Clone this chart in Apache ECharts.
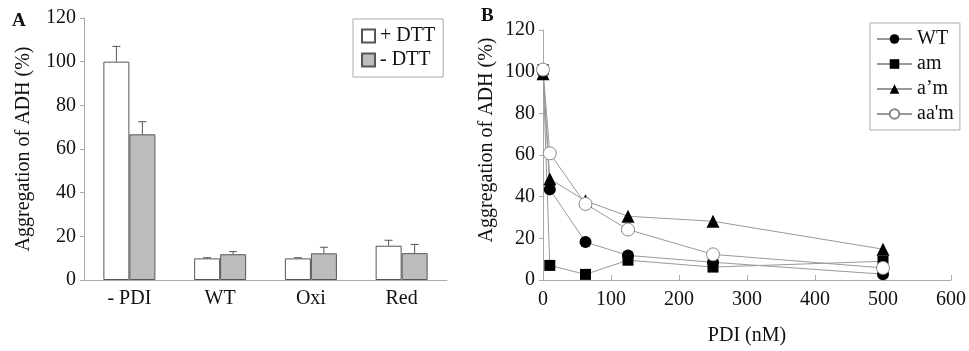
<!DOCTYPE html>
<html>
<head>
<meta charset="utf-8">
<script src="https://cdn.jsdelivr.net/npm/echarts@6/dist/echarts.min.js"></script>
<style>
html,body{margin:0;padding:0;background:#fff;}
#c{width:969px;height:351px;}
</style>
</head>
<body>
<div id="c"></div>
<script>
// Panel A data
const categories = ['- PDI', 'WT', 'Oxi', 'Red'];
const plusDTT = [100, 9.9, 9.9, 15.7];
const plusDTTErrTop = [107, 10.2, 10.2, 18.2];
const minusDTT = [66.7, 11.8, 12.2, 12.3];
const minusDTTErrTop = [72.5, 13, 15, 16.3];
const yTicksA = [0, 20, 40, 60, 80, 100, 120];

// Panel B data
const pdi = [0, 10, 62.5, 125, 250, 500];
const wt = [100, 43.5, 18.2, 11.8, 8.5, 2.8];
const am = [101, 7, 2.7, 9.5, 6.2, 9];
const apm = [99, 48.5, 38, 30.6, 28.2, 14.8];
const aapm = [101, 60.8, 36.5, 24.2, 12.3, 5.8];
const xTicksB = [0, 100, 200, 300, 400, 500, 600];
const yTicksB = [0, 20, 40, 60, 80, 100, 120];

const FONT = '"Liberation Serif", "DejaVu Serif", serif';
const TXT = '#111';
const AX = '#aaa';
const BAR_W = 26;

function pairs(xs, ys) { return xs.map((x, i) => [x, ys[i]]); }

function errSeries(name, vals, tops, side) {
  return {
    type: 'custom',
    name: name + ' err',
    xAxisIndex: 0, yAxisIndex: 0,
    z: 5,
    silent: true,
    data: vals.map((v, i) => [i, v, tops[i]]),
    renderItem: function (params, api) {
      const i = api.value(0);
      const base = api.coord([i, api.value(1)]);
      const top = api.coord([i, api.value(2)]);
      const x = base[0] + side * BAR_W / 2;
      const st = { stroke: '#555', lineWidth: 1 };
      return {
        type: 'group',
        children: [
          { type: 'line', shape: { x1: x, y1: base[1], x2: x, y2: top[1] }, style: st },
          { type: 'line', shape: { x1: x - 4, y1: top[1], x2: x + 4, y2: top[1] }, style: st }
        ]
      };
    }
  };
}

const chart = echarts.init(document.getElementById('c'));
const option = {
  animation: false,
  backgroundColor: '#fff',
  textStyle: { fontFamily: FONT },
  graphic: [
    { type: 'text', left: 12, top: 12, style: { text: 'A', font: 'bold 19px "Liberation Serif"', fill: TXT } },
    { type: 'text', left: 481, top: 7, style: { text: 'B', font: 'bold 19px "Liberation Serif"', fill: TXT } }
  ],
  grid: [
    { left: 84, right: 522, top: 18, bottom: 71 },
    { left: 543, right: 18, top: 30, bottom: 68 }
  ],
  legend: [
    {
      data: ['+ DTT', '- DTT'],
      orient: 'vertical', left: 353, top: 19,
      padding: [7, 8, 7, 8], itemGap: 4,
      itemWidth: 13, itemHeight: 13,
      borderColor: '#aaa', borderWidth: 1,
      icon: 'rect',
      textStyle: { fontFamily: FONT, fontSize: 20, color: TXT }
    },
    {
      data: ['WT', 'am', 'a’m', "aa'm"],
      orient: 'vertical', left: 870, top: 23,
      padding: [6, 6, 6, 6], itemGap: 5,
      itemWidth: 35, itemHeight: 12,
      borderColor: '#aaa', borderWidth: 1,
      textStyle: { fontFamily: FONT, fontSize: 20, color: TXT }
    }
  ],
  xAxis: [
    {
      type: 'category', gridIndex: 0, data: categories,
      axisLine: { lineStyle: { color: AX } },
      axisTick: { inside: true, length: 5, lineStyle: { color: AX } },
      axisLabel: { fontFamily: FONT, fontSize: 20, color: TXT, margin: 9 }
    },
    {
      type: 'value', gridIndex: 1, min: 0, max: 600, interval: 100,
      axisLine: { lineStyle: { color: AX } },
      axisTick: { inside: true, length: 5, lineStyle: { color: AX } },
      splitLine: { show: false },
      axisLabel: { fontFamily: FONT, fontSize: 20, color: TXT, margin: 10 },
      name: 'PDI (nM)', nameLocation: 'middle', nameGap: 46,
      nameTextStyle: { fontFamily: FONT, fontSize: 20, color: TXT }
    }
  ],
  yAxis: [
    {
      type: 'value', gridIndex: 0, min: 0, max: 120, interval: 20,
      axisLine: { show: true, lineStyle: { color: AX } },
      axisTick: { show: true, length: 4, lineStyle: { color: AX } },
      splitLine: { show: false },
      axisLabel: { fontFamily: FONT, fontSize: 20, color: TXT, margin: 8 },
      name: 'Aggregation of ADH (%)', nameLocation: 'middle', nameGap: 50,
      nameTextStyle: { fontFamily: FONT, fontSize: 20, color: TXT }
    },
    {
      type: 'value', gridIndex: 1, min: 0, max: 120, interval: 20,
      axisLine: { show: true, lineStyle: { color: AX } },
      axisTick: { show: true, length: 4, lineStyle: { color: AX } },
      splitLine: { show: false },
      axisLabel: { fontFamily: FONT, fontSize: 20, color: TXT, margin: 8 },
      name: 'Aggregation of ADH (%)', nameLocation: 'middle', nameGap: 46,
      nameTextStyle: { fontFamily: FONT, fontSize: 20, color: TXT, padding: [0, 0, 0, 30] }
    }
  ],
  series: [
    {
      type: 'bar', name: '+ DTT', xAxisIndex: 0, yAxisIndex: 0,
      data: plusDTT, barWidth: BAR_W, barGap: '0%',
      itemStyle: { color: '#fff', borderColor: '#555', borderWidth: 1 }
    },
    {
      type: 'bar', name: '- DTT', xAxisIndex: 0, yAxisIndex: 0,
      data: minusDTT, barWidth: BAR_W, barGap: '0%',
      itemStyle: { color: '#bdbdbd', borderColor: '#555', borderWidth: 1 }
    },
    errSeries('+ DTT', plusDTT, plusDTTErrTop, -1),
    errSeries('- DTT', minusDTT, minusDTTErrTop, 1),
    {
      type: 'line', name: 'WT', xAxisIndex: 1, yAxisIndex: 1,
      data: pairs(pdi, wt), symbol: 'circle', symbolSize: 12,
      itemStyle: { color: '#000' }, lineStyle: { color: '#999', width: 1 }
    },
    {
      type: 'line', name: 'am', xAxisIndex: 1, yAxisIndex: 1,
      data: pairs(pdi, am), symbol: 'rect', symbolSize: 11,
      itemStyle: { color: '#000' }, lineStyle: { color: '#999', width: 1 }
    },
    {
      type: 'line', name: 'a’m', xAxisIndex: 1, yAxisIndex: 1,
      data: pairs(pdi, apm), symbol: 'triangle', symbolSize: 13,
      itemStyle: { color: '#000' }, lineStyle: { color: '#999', width: 1 }
    },
    {
      type: 'line', name: "aa'm", xAxisIndex: 1, yAxisIndex: 1,
      data: pairs(pdi, aapm), symbol: 'circle', symbolSize: 13,
      itemStyle: { color: '#fff', borderColor: '#888', borderWidth: 1 }, lineStyle: { color: '#999', width: 1 }
    }
  ]
};
chart.setOption(option);
</script>
</body>
</html>
